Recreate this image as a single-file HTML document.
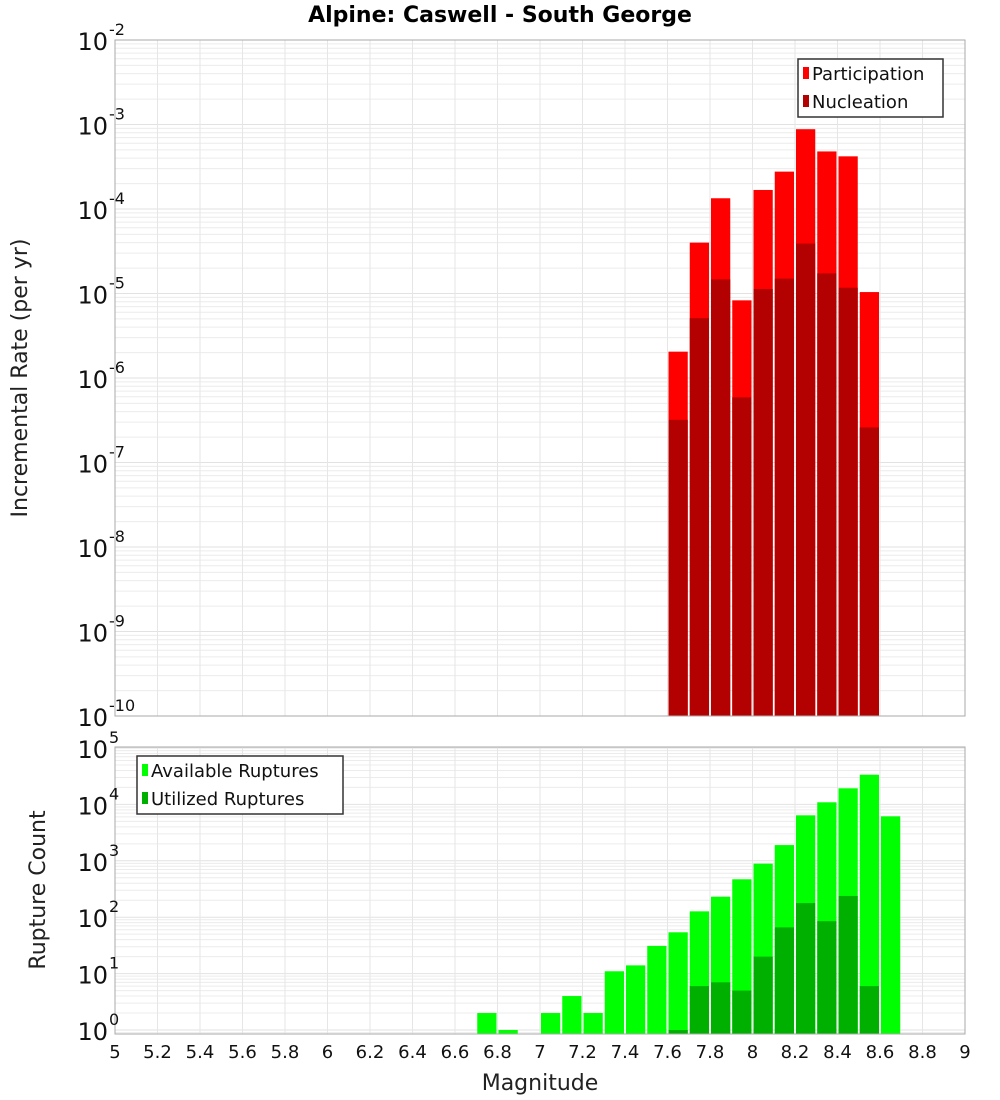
<!DOCTYPE html>
<html><head><meta charset="utf-8"><style>
body{margin:0;background:#fff;}
svg{display:block;font-family:"DejaVu Sans","Liberation Sans",sans-serif;}
</style></head><body>
<svg id="c" width="1000" height="1100" xmlns="http://www.w3.org/2000/svg">
<text x="500" y="22" text-anchor="middle" font-size="22" font-weight="bold">Alpine: Caswell - South George</text>
<text transform="translate(27,378) rotate(-90)" text-anchor="middle" font-size="22" fill="#222">Incremental Rate (per yr)</text>
<text transform="translate(45,890) rotate(-90)" text-anchor="middle" font-size="22" fill="#222">Rupture Count</text>
<text x="540" y="1090" text-anchor="middle" font-size="22" fill="#222">Magnitude</text>
</svg>
<script>
const mags=[6.7,6.8,6.9,7.0,7.1,7.2,7.3,7.4,7.5,7.6,7.7,7.8,7.9,8.0,8.1,8.2,8.3,8.4,8.5,8.6];
const partMags=[7.6,7.7,7.8,7.9,8.0,8.1,8.2,8.3,8.4,8.5];
const participation=[2.05e-6,4.0e-5,1.34e-4,8.3e-6,1.68e-4,2.77e-4,8.8e-4,4.8e-4,4.2e-4,1.04e-5];
const nucleation=[3.2e-7,5.1e-6,1.47e-5,5.9e-7,1.13e-5,1.5e-5,3.9e-5,1.73e-5,1.17e-5,2.6e-7];
const available=[2,1,0,2,4,2,11,14,31,54,127,231,470,890,1900,6400,10900,19300,33600,6150];
const utilized=[0,0,0,0,0,0,0,0,0,1,6,7,5,20,66,178,85,238,6,0];
const xTicks=[5,5.2,5.4,5.6,5.8,6,6.2,6.4,6.6,6.8,7,7.2,7.4,7.6,7.8,8,8.2,8.4,8.6,8.8,9];
const topExp=[-10,-9,-8,-7,-6,-5,-4,-3,-2];
const botExp=[0,1,2,3,4,5];

const svg=document.getElementById('c');
const NS='http://www.w3.org/2000/svg';
function mk(t,a,p){const e=document.createElementNS(NS,t);for(const k in a)e.setAttribute(k,a[k]);(p||svg).appendChild(e);return e;}
const X0=115,X1=965;
const x=m=>X0+(m-5)/4*(X1-X0);
const bw=(X1-X0)/40;
const T0=40,T1=716;
const yT=v=>T0+(-2-Math.log10(v))*(T1-T0)/8;
const B0=747,B1=1034;
const yB=v=>1030-Math.log10(v)*56.4;

function grid(top,bot,yf,e0,e1){
  const g=mk('g',{});
  
  
  for(let e=e0;e<=e1;e++)for(let k=1;k<10;k++){const y=yf(k*Math.pow(10,e));if(y<top-0.5||y>bot+0.5)continue;mk('line',{x1:X0,x2:X1,y1:y,y2:y,stroke:k==1?'#e2e2e2':'#ececec','stroke-width':1},g);}
  xTicks.forEach(t=>mk('line',{x1:x(t),x2:x(t),y1:top,y2:bot,stroke:'#e6e6e6'},g));
}
grid(T0,T1,yT,-10,-2);
grid(B0,B1,yB,-1,5);

function bars(ms,vals,yf,base,color,name){
  const g=mk('g',{});
  
  
  ms.forEach((m,i)=>{const v=vals[i];if(!v)return;const y=yf(v);
    const r=mk('rect',{x:x(m)+1,y:y,width:bw-2,height:base-y,fill:color},g);
    
    });
}
bars(partMags,participation,yT,T1,'#ff0000','participation');
bars(partMags,nucleation,yT,T1,'#b30000','nucleation');
bars(mags,available,yB,B1,'#00ff00','available-ruptures');
bars(mags,utilized,yB,B1,'#00b000','utilized-ruptures');

mk('rect',{x:X0,y:T0,width:X1-X0,height:T1-T0,fill:'none',stroke:'#aaa'});
mk('rect',{x:X0,y:B0,width:X1-X0,height:B1-B0,fill:'none',stroke:'#aaa'});

function ylabels(exps,yf,cls){
  exps.forEach(e=>{const y=yf(Math.pow(10,e));
    const t=mk('text',{x:108,y:y+10,'text-anchor':'end','font-size':24,fill:'#111'});
    
    
    t.textContent='10';
    const s=mk('text',{x:109,y:y-5,'font-size':16,fill:'#111'});
    
    
    s.textContent=String(e);});
}
ylabels(topExp,yT,'top-y');
ylabels(botExp,yB,'bottom-y');
xTicks.forEach(t=>{const l=mk('text',{x:x(t),y:1058,'text-anchor':'middle','font-size':18,fill:'#111'});
  
  
  l.textContent=String(Math.round(t*10)/10);});

function legend(lx,ly,w,items,name){
  const g=mk('g',{});
  
  
  mk('rect',{x:lx,y:ly,width:w,height:58,fill:'#fff',stroke:'#333','stroke-width':1.5},g);
  items.forEach((it,i)=>{
    mk('rect',{x:lx+5,y:ly+8+i*28,width:6,height:12,fill:it[1]},g);
    const t=mk('text',{x:lx+14,y:ly+21+i*28,'font-size':18,fill:'#111'},g);
    
    
    t.textContent=it[0];});
}
legend(798,59,145,[['Participation','#ff0000'],['Nucleation','#b30000']],'top-legend');
legend(137,756,206,[['Available Ruptures','#00ff00'],['Utilized Ruptures','#00b000']],'bottom-legend');
</script>
</body></html>
